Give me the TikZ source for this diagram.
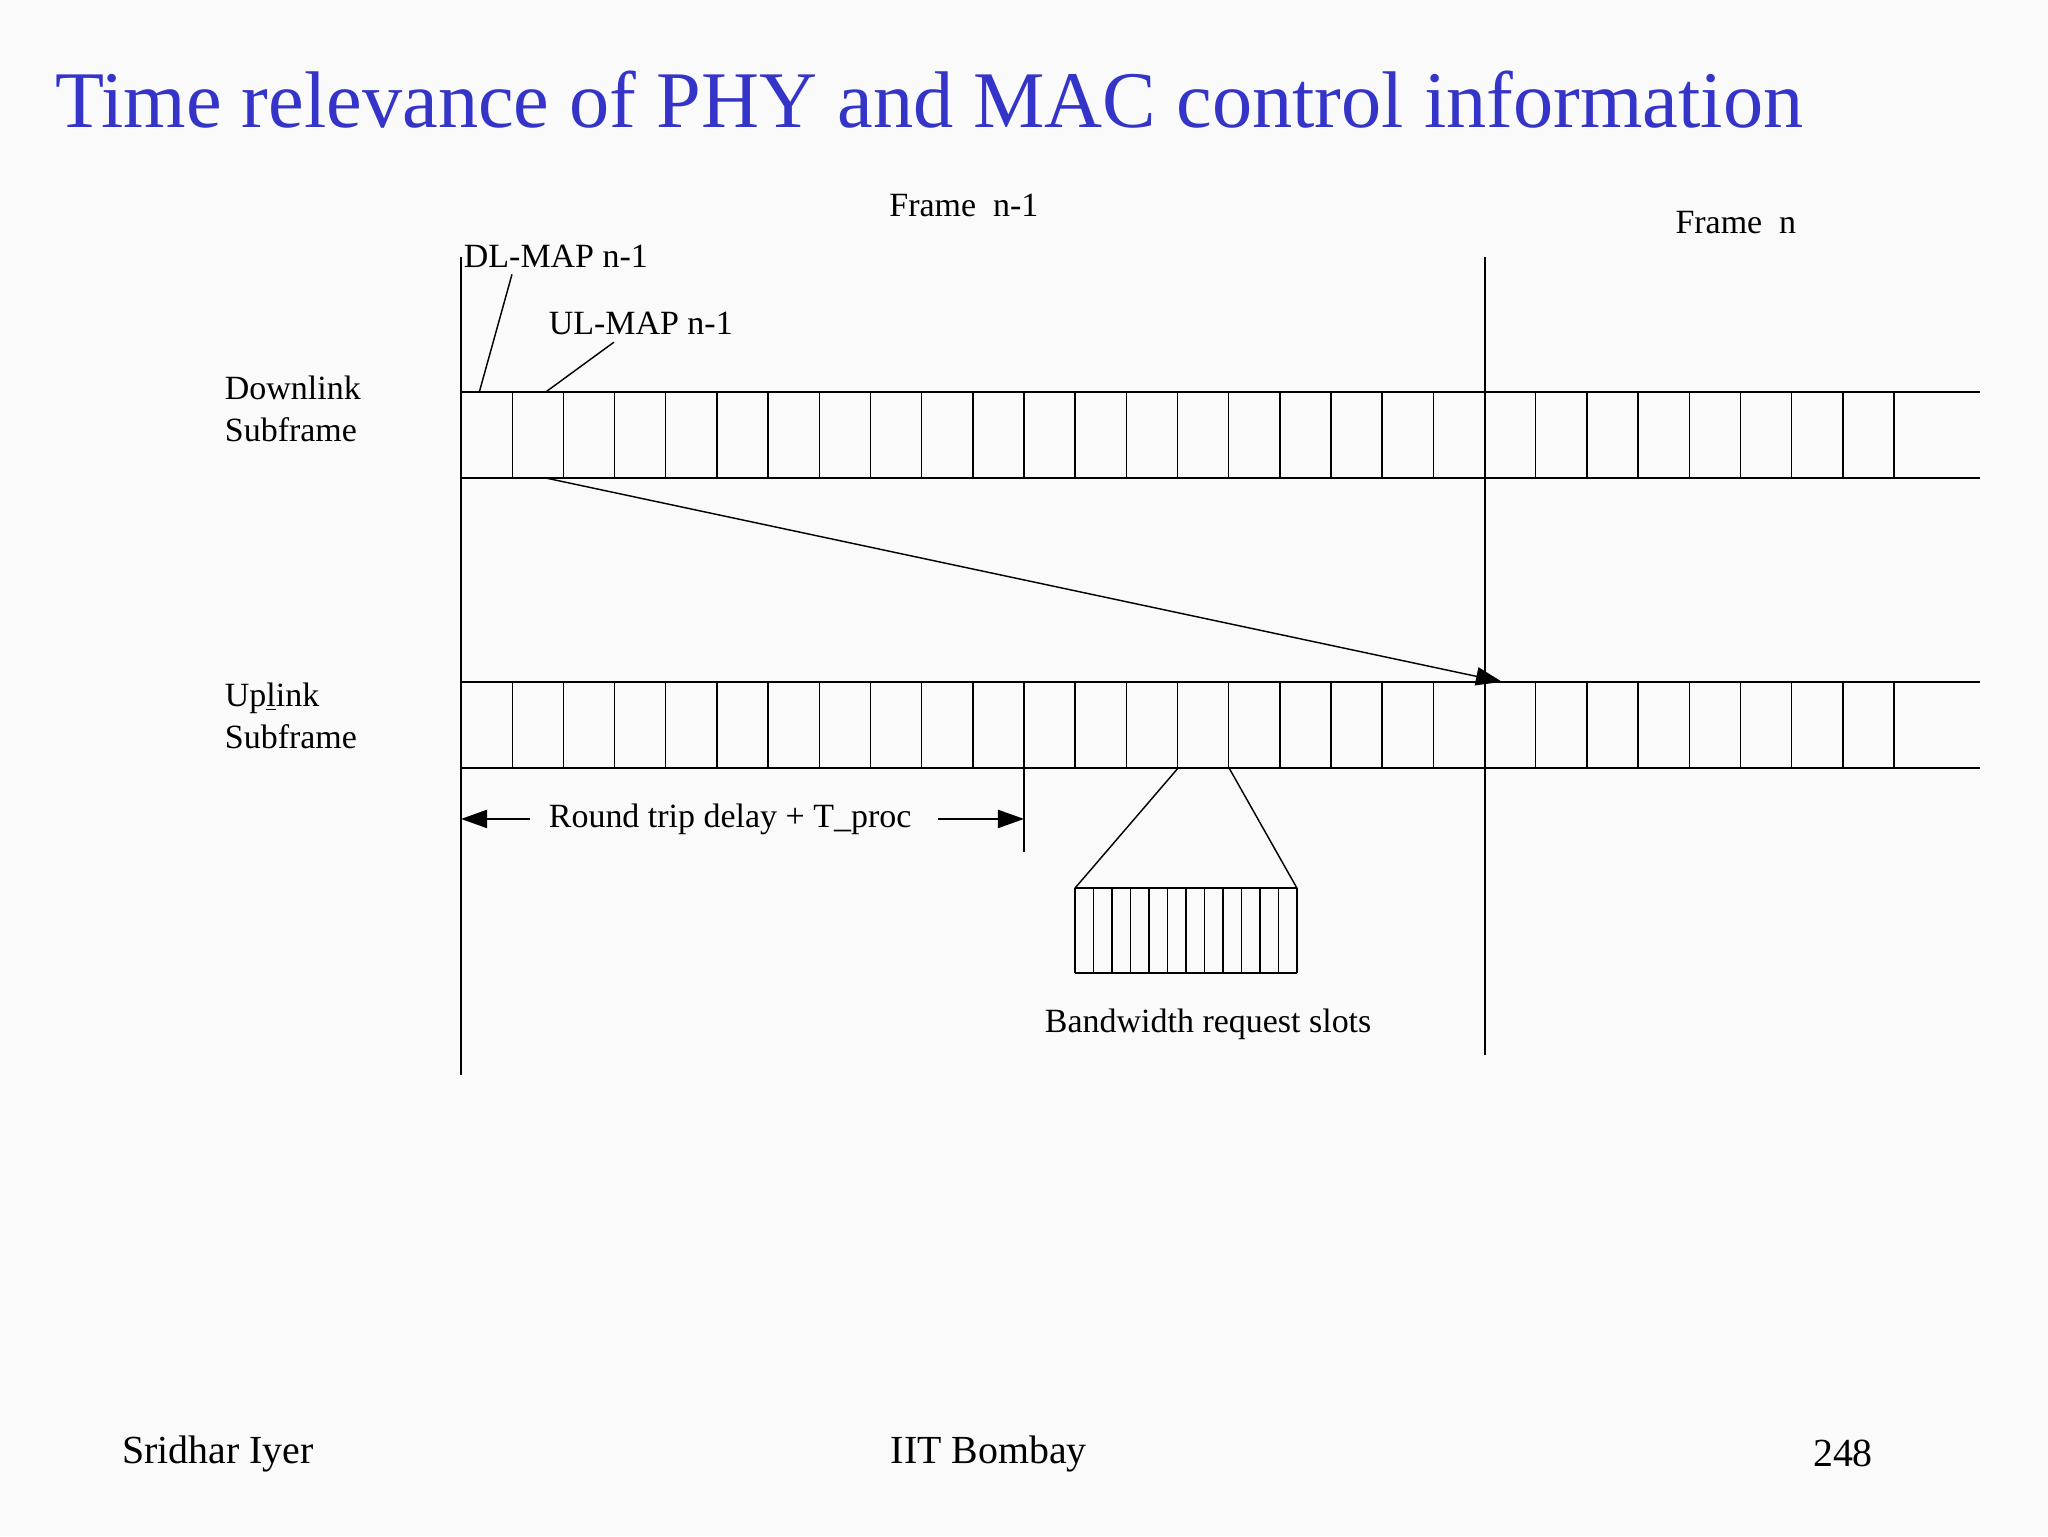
\documentclass[tikz,border=0pt]{standalone}
\usepackage{fontspec}
\setmainfont{Liberation Serif}
\usetikzlibrary{arrows.meta}
\definecolor{titleblue}{RGB}{52,52,200}
\begin{document}
\begin{tikzpicture}[x=1pt,y=-1pt,
  lbl/.style={font=\fontsize{26}{32}\selectfont, inner sep=0pt},
  ln/.style={line width=1.1pt}]
\useasboundingbox (0,0) rectangle (1568,1176);
\fill[white!98!black] (0,0) rectangle (1568,1176);
\node[anchor=west, text=titleblue, font=\fontsize{61.5}{66}\selectfont, inner sep=0pt] (title) at (42,76) {Time relevance of PHY and MAC control information};
% subframes
\foreach \yt/\yb in {300/366,522/588}{
  \draw[ln] (353,\yt) -- (1516,\yt);
  \draw[ln] (353,\yb) -- (1516,\yb);
  \foreach \i in {1,...,28}{ \draw[ln] ({353+\i*39.18},\yt) -- ({353+\i*39.18},\yb); }
}
\coordinate (s0) at (353,197); \coordinate (e0) at (353,823);
\coordinate (s1) at (1137,197); \coordinate (e1) at (1137,808);
\draw[ln] (s0) -- (e0);
\draw[ln] (s1) -- (e1);
% texts
\node[lbl] (fn1) at (738,157) {Frame\ \ n-1};
\node[lbl] (fn) at (1329,170) {Frame\ \ n};
\node[lbl, anchor=west] (dlmap) at (355,196) {DL-MAP n-1};
\node[lbl, anchor=west] (ulmap) at (420,248) {UL-MAP n-1};
\node[lbl, anchor=north west, align=left] (dl) at (172,288) {Downlink\\Subframe};
\node[lbl, anchor=north west, align=left] (ul) at (172,523) {Up\underline{l}ink\\Subframe};
\coordinate (dlp) at (367,300); \coordinate (ulp) at (418,300);
\draw[ln] (392,210) -- (dlp);
\draw[ln] (470,262) -- (ulp);
% big arrow
\coordinate (a0) at (418,366); \coordinate (a1) at (1150,522);
\draw[ln, -{Triangle[length=20pt,width=14pt]}] (a0) -- (a1);
% round trip
\node[lbl] (rt) at (559,627) {Round trip delay + T\_proc};
\coordinate (rl) at (353,627); \coordinate (rr) at (784,627);
\draw[ln, -{Triangle[length=20pt,width=14pt]}] (rt.west) ++(-14,0) -- (rl);
\draw[ln, -{Triangle[length=20pt,width=14pt]}] (rt.east) ++(20,0) -- (rr);
\draw[ln] (784,588) -- (784,652);
% bandwidth slots
\draw[ln] (902,588) -- (823,680);
\draw[ln] (941,588) -- (993,680);
\draw[ln] (823,680) -- (993,680);
\draw[ln] (823,745) -- (993,745);
\foreach \i in {0,...,12}{ \draw[ln] ({823+\i*14.17},680) -- ({823+\i*14.17},745); }
\node[lbl] (bw) at (925,784) {Bandwidth request slots};
% footer
\node[lbl, font=\fontsize{30.5}{34}\selectfont] (f1) at (167,1113) {Sridhar Iyer};
\node[lbl, font=\fontsize{30.5}{34}\selectfont] (f2) at (757,1113) {IIT Bombay};
\node[lbl, font=\fontsize{30.5}{34}\selectfont] (f3) at (1411,1113) {248};
\end{tikzpicture}
\end{document}
